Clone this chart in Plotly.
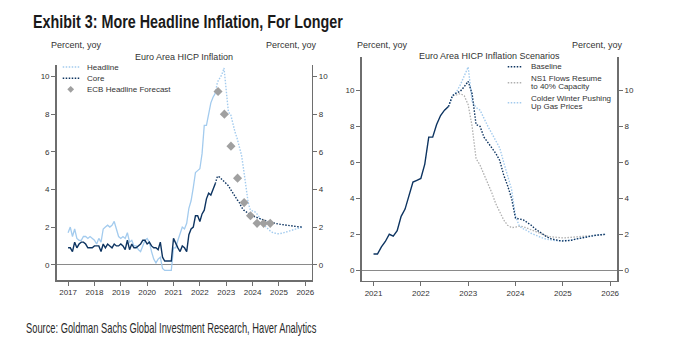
import plotly.graph_objects as go

W, H = 677, 364


def px(x):
    return x / W


def py(y):
    return 1 - y / H


def months(start, n):
    return [start + i / 12 for i in range(n)]


# ---------------- data ----------------
# Left panel: monthly, Jan 2017 - Aug 2022 (actual)
headline_actual = [
    1.7, 2.0, 1.5, 1.9, 1.4, 1.3, 1.3, 1.5, 1.5, 1.4, 1.5, 1.4,
    1.3, 1.1, 1.4, 1.2, 1.9, 2.0, 2.1, 2.0, 2.1, 2.3, 1.9, 1.5,
    1.4, 1.5, 1.4, 1.7, 1.2, 1.3, 1.0, 1.0, 0.8, 0.7, 1.0, 1.3,
    1.4, 1.2, 0.7, 0.3, 0.1, 0.3, 0.4, -0.2, -0.3, -0.3, -0.3, -0.3,
    0.9, 0.9, 1.3, 1.6, 2.0, 1.9, 2.2, 3.0, 3.4, 4.1, 4.9, 5.0,
    5.1, 5.9, 7.4, 7.4, 8.1, 8.6, 8.9, 9.1,
]
core_actual = [
    0.9, 0.9, 0.7, 1.2, 0.9, 1.1, 1.2, 1.2, 1.1, 0.9, 0.9, 0.9,
    1.0, 1.0, 1.0, 0.7, 1.1, 0.9, 1.1, 1.0, 0.9, 1.1, 1.0, 1.0,
    1.1, 1.0, 0.8, 1.3, 0.8, 1.1, 0.9, 0.9, 1.0, 1.1, 1.3, 1.3,
    1.1, 1.2, 1.0, 0.9, 0.9, 0.8, 1.2, 0.4, 0.2, 0.2, 0.2, 0.2,
    1.4, 1.1, 0.9, 0.7, 1.0, 0.9, 0.7, 1.6, 1.9, 2.0, 2.6, 2.6,
    2.3, 2.7, 2.9, 3.5, 3.8, 3.7, 4.0, 4.3,
]
# Left panel forecasts: monthly, Aug 2022 - Dec 2025
headline_fcst = [
    9.1, 9.7, 9.9, 10.1, 10.45,
    9.4, 8.1, 8.0, 7.5, 7.05, 6.7, 6.3, 5.8, 5.0, 4.1, 3.3, 2.9,
    2.88, 2.82, 2.7, 2.55, 2.4, 2.2, 2.02, 1.9, 1.8, 1.72, 1.67, 1.65,
    1.65, 1.66, 1.69, 1.73, 1.77, 1.81, 1.85, 1.89, 1.92, 1.95, 1.98, 2.0,
]
core_fcst = [
    4.3, 4.7, 4.65, 4.55, 4.45,
    4.3, 4.2, 4.0, 3.8, 3.6, 3.45, 3.3, 3.05, 2.9, 2.8, 2.72, 2.65,
    2.6, 2.55, 2.5, 2.46, 2.42, 2.38, 2.33, 2.29, 2.25, 2.22, 2.2, 2.18,
    2.16, 2.14, 2.12, 2.1, 2.08, 2.06, 2.05, 2.04, 2.03, 2.02, 2.01, 2.0,
]
ecb_x = [2022.69, 2022.93, 2023.18, 2023.43, 2023.68, 2023.92, 2024.17, 2024.42, 2024.67]
ecb_y = [9.2, 8.0, 6.3, 4.6, 3.3, 2.6, 2.2, 2.2, 2.2]

# Right panel: actual Jan 2021 - Aug 2022, scenarios Aug 2022 - Dec 2025
scen_actual = headline_actual[48:]
baseline = [
    9.1, 9.7, 9.85, 9.95, 10.2,
    10.5, 9.8, 8.1, 8.0, 7.4, 7.1, 6.8, 6.5, 6.1, 5.3, 4.7, 4.0,
    2.9, 2.85, 2.8, 2.65, 2.5, 2.3, 2.15, 2.0, 1.85, 1.75, 1.68, 1.65,
    1.63, 1.63, 1.66, 1.72, 1.77, 1.82, 1.87, 1.9, 1.93, 1.96, 1.98, 2.0,
]
ns1 = [
    9.1, 9.7, 9.75, 9.82, 9.7,
    9.2, 8.0, 6.2, 5.85, 5.35, 4.8, 4.3, 3.7, 3.2, 2.8, 2.5, 2.37,
    2.4, 2.45, 2.42, 2.33, 2.25, 2.15, 2.05, 1.98, 1.9, 1.86, 1.83, 1.8,
    1.8, 1.81, 1.83, 1.85, 1.88, 1.9, 1.93, 1.95, 1.97, 1.98, 1.99, 2.0,
]
colder = [
    9.1, 9.7, 9.9, 10.3, 10.8,
    11.3, 9.4, 9.05, 8.9, 8.4, 8.0, 7.6, 7.2, 6.8, 6.0, 5.3, 4.5,
    3.0, 2.45, 2.3, 2.2, 2.05, 1.95, 1.85, 1.78, 1.72, 1.67, 1.65, 1.64,
    1.64, 1.65, 1.67, 1.72, 1.77, 1.82, 1.87, 1.91, 1.94, 1.97, 1.99, 2.0,
]

left_years = list(range(2017, 2027))
right_years = list(range(2021, 2027))
y_ticks = [0, 2, 4, 6, 8, 10]

# ---------------- styling ----------------
LIGHT = "#a3cbee"
NAVY = "#0d3461"
GRAY_D = "#a0a0a0"
GRAY_L = "#b0b0b0"
AX = "#6e6e6e"
TXT = "#333333"
FONT = "Liberation Sans, Arial, sans-serif"
DOT = "1.5px,1.5px"

fig = go.Figure()

# Left panel
fig.add_trace(go.Scatter(x=months(2017, len(headline_actual)), y=headline_actual,
                         mode="lines", line=dict(color=LIGHT, width=1.3),
                         xaxis="x", yaxis="y", showlegend=False))
fig.add_trace(go.Scatter(x=months(2022 + 7 / 12, len(headline_fcst)), y=headline_fcst,
                         mode="lines", line=dict(color=LIGHT, width=1.4, dash=DOT),
                         xaxis="x", yaxis="y", showlegend=False))
fig.add_trace(go.Scatter(x=months(2017, len(core_actual)), y=core_actual,
                         mode="lines", line=dict(color=NAVY, width=1.4),
                         xaxis="x", yaxis="y", showlegend=False))
fig.add_trace(go.Scatter(x=months(2022 + 7 / 12, len(core_fcst)), y=core_fcst,
                         mode="lines", line=dict(color=NAVY, width=1.4, dash=DOT),
                         xaxis="x", yaxis="y", showlegend=False))
fig.add_trace(go.Scatter(x=ecb_x, y=ecb_y, mode="markers",
                         marker=dict(symbol="diamond", size=7, color=GRAY_D),
                         xaxis="x", yaxis="y", showlegend=False))

# Right panel
fig.add_trace(go.Scatter(x=months(2022 + 7 / 12, len(ns1)), y=ns1,
                         mode="lines", line=dict(color=GRAY_L, width=1.3, dash=DOT),
                         xaxis="x2", yaxis="y3", showlegend=False))
fig.add_trace(go.Scatter(x=months(2022 + 7 / 12, len(colder)), y=colder,
                         mode="lines", line=dict(color=LIGHT, width=1.4, dash=DOT),
                         xaxis="x2", yaxis="y3", showlegend=False))
fig.add_trace(go.Scatter(x=months(2022 + 7 / 12, len(baseline)), y=baseline,
                         mode="lines", line=dict(color=NAVY, width=1.4, dash=DOT),
                         xaxis="x2", yaxis="y3", showlegend=False))
fig.add_trace(go.Scatter(x=months(2021, len(scen_actual)), y=scen_actual,
                         mode="lines", line=dict(color=NAVY, width=1.4),
                         xaxis="x2", yaxis="y3", showlegend=False))

tickfont = dict(family=FONT, size=8, color=TXT)
common_x = dict(showline=True, linecolor=AX, linewidth=1.6, ticks="outside",
                ticklen=4, tickcolor=AX, tickfont=tickfont, showgrid=False,
                zeroline=False, fixedrange=True)
common_y = dict(showline=True, linecolor=AX, linewidth=1.6, ticks="outside",
                ticklen=4, tickcolor=AX, tickfont=tickfont, showgrid=False,
                tickvals=y_ticks, fixedrange=True)

fig.update_layout(
    width=W, height=H,
    margin=dict(l=0, r=0, t=0, b=0),
    paper_bgcolor="white", plot_bgcolor="white",
    showlegend=False,
    xaxis=dict(domain=[px(57), px(313)], range=[2016.57, 2026.24],
               tickvals=left_years, anchor="y", **common_x),
    yaxis=dict(domain=[py(280), py(65)], range=[-0.81, 10.61], anchor="x",
               zeroline=True, zerolinecolor="#8a8a8a", zerolinewidth=1, **common_y),
    yaxis2=dict(domain=[py(280), py(65)], range=[-0.81, 10.61], anchor="x",
                overlaying="y", side="right", zeroline=False, **common_y),
    xaxis2=dict(domain=[px(363.3), px(620)], range=[2020.75, 2026.15],
                tickvals=right_years, anchor="y3", **common_x),
    yaxis3=dict(domain=[py(280.7), py(56.7)], range=[-0.58, 11.87], anchor="x2",
                zeroline=True, zerolinecolor="#8a8a8a", zerolinewidth=1, **common_y),
    yaxis4=dict(domain=[py(280.7), py(56.7)], range=[-0.58, 11.87], anchor="x2",
                overlaying="y3", side="right", zeroline=False, **common_y),
)
# empty traces so the right-hand axes render
fig.add_trace(go.Scatter(x=[None], y=[None], xaxis="x", yaxis="y2", showlegend=False))
fig.add_trace(go.Scatter(x=[None], y=[None], xaxis="x2", yaxis="y4", showlegend=False))

ann = []


def text(x, y, s, size=9, anchor="left", color=TXT, family=FONT, bold=False):
    if bold:
        s = "<b>" + s + "</b>"
    ann.append(dict(x=px(x), y=py(y), xref="paper", yref="paper", text=s,
                    showarrow=False, xanchor=anchor, yanchor="middle", align="left",
                    font=dict(family=family, size=size, color=color)))


TITLE = "Exhibit 3: More Headline Inflation, For Longer"
SOURCE = "Source: Goldman Sachs Global Investment Research, Haver Analytics"
text(31, 22, TITLE, size=18, color="#1a1a1a", bold=True)
text(24, 328, SOURCE, size=14, color="#2a2a2a")

text(77, 45, "Percent, yoy", size=9, anchor="center")
text(293, 45, "Percent, yoy", size=9, anchor="center")
text(185, 57, "Euro Area HICP Inflation", size=9, anchor="center")
text(384, 45, "Percent, yoy", size=9, anchor="center")
text(600, 45, "Percent, yoy", size=9, anchor="center")
text(492, 56, "Euro Area HICP Inflation Scenarios", size=9, anchor="center")

# left legend
text(85, 67, "Headline", size=8)
text(85, 78.3, "Core", size=8)
text(85, 89.3, "ECB Headline Forecast", size=8)
# right legend
text(531, 66.7, "Baseline", size=8)
text(531, 78.3, "NS1 Flows Resume", size=8)
text(531, 86.7, "to 40% Capacity", size=8)
text(531, 98.3, "Colder Winter Pushing", size=8)
text(531, 106.7, "Up Gas Prices", size=8)

shapes = []


def seg(x0, x1, y, color):
    shapes.append(dict(type="line", xref="paper", yref="paper",
                       x0=px(x0), x1=px(x1), y0=py(y), y1=py(y),
                       line=dict(color=color, width=1.4, dash=DOT)))


seg(63, 80, 67, LIGHT)
seg(63, 80, 78.3, NAVY)
cx, cy, r = 71, 89.3, 3.4
shapes.append(dict(type="path", xref="paper", yref="paper",
                   path=f"M {px(cx)},{py(cy - r)} L {px(cx + r)},{py(cy)} L {px(cx)},{py(cy + r)} L {px(cx - r)},{py(cy)} Z",
                   fillcolor=GRAY_D, line=dict(width=0)))
seg(510, 525, 66.7, NAVY)
seg(510, 525, 82.7, GRAY_L)
seg(510, 525, 102.7, LIGHT)

fig.update_layout(annotations=ann, shapes=shapes)

# Remove the page margin and narrow the condensed-style title/source text
post = """
document.body.style.margin='0';
document.body.style.overflow='hidden';
var gd=document.getElementById('{plot_id}');
var targets=[['Exhibit 3',310],['Source:',291]];
gd.querySelectorAll('text.annotation-text').forEach(function(t){
  var s=t.textContent;
  targets.forEach(function(p){
    if(s.indexOf(p[0])===0){
      var bb=t.getBBox();
      var sc=p[1]/bb.width;
      var x=bb.x;
      t.setAttribute('transform','translate('+x+',0) scale('+sc+',1) translate('+(-x)+',0)');
    }
  });
});
"""
fig.write_html("out.html", post_script=post,
               config={"displayModeBar": False, "staticPlot": True})
